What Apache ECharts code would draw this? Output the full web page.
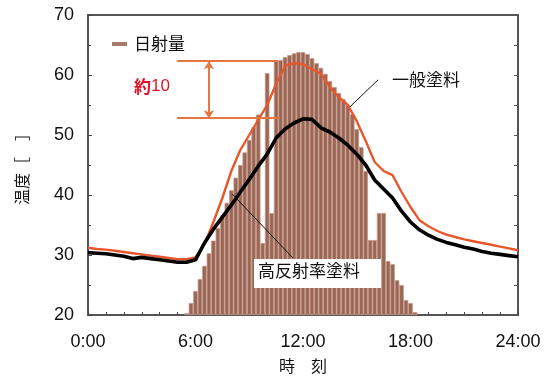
<!DOCTYPE html>
<html>
<head>
<meta charset="utf-8">
<script src="https://cdn.jsdelivr.net/npm/echarts@6/dist/echarts.min.js"></script>
<style>
  html, body { margin: 0; padding: 0; background: #fff; }
  #chart { width: 545px; height: 385px; }
</style>
</head>
<body>
<div id="chart"></div>
<script>
// hours of day, every 30 min
var hours = [0, 0.5, 1, 1.5, 2, 2.5, 3, 3.5, 4, 4.5, 5, 5.5, 6, 6.5, 7, 7.5, 8, 8.5, 9, 9.5,
  10, 10.5, 11, 11.5, 12, 12.5, 13, 13.5, 14, 14.5, 15, 15.5, 16, 16.5, 17, 17.5, 18, 18.5, 19, 19.5,
  20, 20.5, 21, 21.5, 22, 22.5, 23, 23.5, 24];
// 一般塗料 surface temp
var normalPaint = [31.2, 31.0, 30.9, 30.7, 30.5, 30.3, 30.1, 29.9, 29.7, 29.5, 29.3, 29.3, 29.6, 31.8, 35.5, 39.5, 44.0, 47.5, 50.0, 52.5,
  55.0, 58.5, 61.5, 62.0, 61.8, 61.0, 60.2, 58.0, 56.3, 55.0, 52.3, 49.0, 45.5, 44.0, 43.3, 40.5, 38.0, 35.8, 34.8, 34.0,
  33.4, 33.0, 32.6, 32.3, 32.0, 31.7, 31.4, 31.1, 30.8];
// 高反射率塗料 surface temp
var highReflect = [30.4, 30.3, 30.2, 30.0, 29.8, 29.4, 29.6, 29.4, 29.2, 29.0, 28.8, 28.8, 29.2, 32.0, 34.3, 36.3, 38.3, 40.5, 42.6, 44.8,
  46.8, 49.5, 51.0, 52.0, 52.7, 52.6, 51.2, 50.5, 49.5, 48.3, 46.8, 45.0, 42.5, 41.0, 39.5, 37.3, 35.5, 34.2, 33.3, 32.6,
  32.1, 31.7, 31.3, 31.0, 30.6, 30.3, 30.1, 29.9, 29.7];
// 日射量, every 15 min (scaled to the hidden axis)
var sunHours = [5.5, 5.75, 6, 6.25, 6.5, 6.75, 7, 7.25, 7.5, 7.75, 8, 8.25, 8.5, 8.75, 9, 9.25, 9.5, 9.75,
  10, 10.25, 10.5, 10.75, 11, 11.25, 11.5, 11.75, 12, 12.25, 12.5, 12.75, 13, 13.25, 13.5, 13.75,
  14, 14.25, 14.5, 14.75, 15, 15.25, 15.5, 15.75, 16, 16.25, 16.5, 16.75, 17, 17.25, 17.5, 17.75, 18, 18.25];
var sunAmount = [0.3, 2, 4, 6, 8.2, 10.3, 12.4, 14.5, 16.6, 18.7, 20.8, 22.9, 25, 27.1, 29.2, 31.3, 33.4, 12,
  40.3, 17, 42.5, 42.5, 43, 43.3, 43.6, 43.8, 43.8, 43.5, 42.8, 42, 41.2, 40.2, 39, 38,
  37, 36, 35, 33.5, 31, 28, 24, 12.5, 12.5, 17, 17, 9, 8.5, 5.8, 5, 2.5, 2, 0.5];

var cjk = 'Noto Sans CJK JP, sans-serif';
var latin = 'Liberation Sans, Arial, sans-serif';

function pairs(xs, ys) {
  var out = [];
  for (var i = 0; i < xs.length; ++i) {
    out.push([xs[i], ys[i]]);
  }
  return out;
}

var chart = echarts.init(document.getElementById('chart'));
var option = {
  animation: false,
  grid: { left: 88, top: 15, width: 430, height: 300, show: true, borderColor: '#555', borderWidth: 2, backgroundColor: 'transparent' },
  xAxis: [{
    type: 'value', min: 0, max: 24, interval: 6,
    name: '時　刻', nameLocation: 'middle', nameGap: 43,
    nameTextStyle: { fontFamily: cjk, fontSize: 16, color: '#111' },
    axisLine: { show: false },
    axisTick: { show: true, inside: true, length: 4, lineStyle: { color: '#444' } },
    minorTick: { show: true, splitNumber: 6, length: 3, lineStyle: { color: '#444' } },
    splitLine: { show: false },
    axisLabel: { margin: 18, formatter: function (v) { return v + ':00'; }, fontFamily: latin, fontSize: 18, color: '#111' }
  }],
  yAxis: [{
    type: 'value', min: 20, max: 70, interval: 10,
    name: '温度［　］', nameLocation: 'middle', nameGap: 58, nameRotate: 90,
    nameTextStyle: { fontFamily: cjk, fontSize: 16, color: '#111' },
    axisLine: { show: false },
    axisTick: { show: true, inside: true, length: 4, lineStyle: { color: '#444' } },
    minorTick: { show: true, splitNumber: 2, length: 3, lineStyle: { color: '#444' } },
    splitLine: { show: false },
    axisLabel: { margin: 14, fontFamily: latin, fontSize: 18, color: '#111' }
  }, {
    type: 'value', min: 20, max: 70, interval: 5, position: 'right',
    axisLine: { show: false },
    axisTick: { show: true, inside: true, length: 4, lineStyle: { color: '#555' } },
    axisLabel: { show: false }, splitLine: { show: false }
  }, {
    type: 'value', min: 0, max: 50, show: false
  }],
  series: [{
    name: '日射量', type: 'bar', yAxisIndex: 2,
    barWidth: 4.6,
    itemStyle: { color: '#9a6656', borderColor: '#c59c8a', borderWidth: 0.8 },
    data: pairs(sunHours, sunAmount),
    z: 1
  }, {
    name: '一般塗料', type: 'line', showSymbol: false, symbol: 'none',
    lineStyle: { color: '#e8562c', width: 2.4 },
    itemStyle: { color: '#e8562c' },
    data: pairs(hours, normalPaint),
    z: 3,
    markLine: {
      silent: true, symbol: 'none',
      lineStyle: { color: '#e8773f', width: 2, type: 'solid' },
      label: { show: false },
      data: [
        [{ coord: [4.97, 62.3] }, { coord: [10.6, 62.3] }],
        [{ coord: [4.97, 52.8] }, { coord: [10.7, 52.8] }],
        [{ coord: [6.75, 62.3], symbol: 'arrow', symbolSize: 8 }, { coord: [6.75, 52.8], symbol: 'arrow', symbolSize: 8 }],
        [{ coord: [16.19, 59.2], lineStyle: { color: '#111', width: 1 } }, { coord: [14.62, 54.7] }]
      ]
    }
  }, {
    name: '高反射率塗料', type: 'line', showSymbol: false, symbol: 'none',
    lineStyle: { color: '#000', width: 3.6 },
    itemStyle: { color: '#000' },
    data: pairs(hours, highReflect),
    z: 4,
    markLine: {
      silent: true, symbol: 'none',
      lineStyle: { color: '#111', width: 1, type: 'solid' },
      label: { show: false },
      data: [
        [{ coord: [8.04, 40.2] }, { coord: [11.44, 29.5] }]
      ]
    }
  }],
  graphic: [{
    // legend for 日射量
    type: 'rect', left: 112, top: 42, z: 10,
    shape: { width: 15, height: 4 },
    style: { fill: '#a87a6a' }
  }, {
    type: 'text', left: 134, top: 35, z: 10,
    style: { text: '日射量', font: '17px ' + cjk, fill: '#111' }
  }, {
    type: 'text', left: 134, top: 78, z: 10,
    style: {
      text: '{b|約}10',
      font: '17px ' + latin,
      fill: '#e4102a',
      rich: { b: { fontFamily: cjk, fontSize: 17, fontWeight: 'bold', fill: '#e4102a' } }
    }
  }, {
    type: 'text', left: 392, top: 71, z: 10,
    style: { text: '一般塗料', font: '17px ' + cjk, fill: '#111' }
  }, {
    type: 'rect', left: 254, top: 259, z: 9,
    shape: { width: 127, height: 29 },
    style: { fill: '#fff' }
  }, {
    type: 'text', left: 258, top: 262, z: 10,
    style: { text: '高反射率塗料', font: '17px ' + cjk, fill: '#111' }
  }]
};
chart.setOption(option);
</script>
</body>
</html>
